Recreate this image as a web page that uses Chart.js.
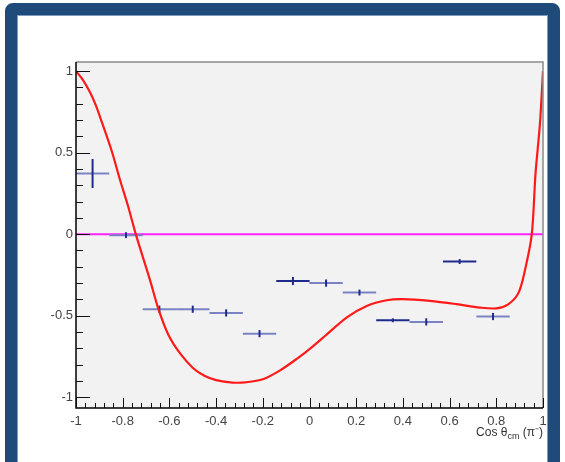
<!DOCTYPE html>
<html lang="en">
<head>
    <meta charset="UTF-8">
    <title>Cos theta cm fit</title>
    <style>
        body {
            margin: 0;
            background: #ffffff;
        }
        .frame {
            position: absolute;
            left: 5px;
            top: 3px;
            width: 555px;
            height: 490px;
            box-sizing: border-box;
            border: 12px solid #1f4b7a;
            border-radius: 8px;
            box-shadow: inset 0 0 0 1px #7d9cc0;
            background: #ffffff;
        }
        #chart {
            position: absolute;
            left: 0;
            top: 0;
        }
    </style>
</head>
<body>
    <div class="frame"></div>
    <canvas id="chart" width="565" height="462"></canvas>

    <script src="https://cdn.jsdelivr.net/npm/chart.js"></script>
    <script>
        // fit curve (red)
        const curveX = [-1, -0.97, -0.94, -0.915, -0.89, -0.847, -0.812, -0.776, -0.744, -0.683, -0.648, -0.605,
            -0.555, -0.498, -0.45, -0.4, -0.33, -0.27, -0.2, -0.126, -0.05, 0, 0.07, 0.16, 0.245,
            0.33, 0.4, 0.516, 0.63, 0.73, 0.8, 0.851, 0.895, 0.923, 0.952, 0.968, 0.987, 1];
        const curveY = [1, 0.945, 0.87, 0.79, 0.69, 0.51, 0.335, 0.167, 0, -0.282, -0.455, -0.615,
            -0.73, -0.822, -0.868, -0.895, -0.91, -0.908, -0.89, -0.835, -0.76, -0.705, -0.62, -0.51, -0.44,
            -0.405, -0.398, -0.409, -0.429, -0.45, -0.455, -0.43, -0.36, -0.22, 0, 0.372, 0.68, 1];

        // measured points with errors (blue crosses)
        const binCenters = [-0.929, -0.786, -0.643, -0.5, -0.357, -0.214, -0.071, 0.071, 0.214, 0.357, 0.5, 0.643, 0.786];
        const binValues = [0.372, -0.006, -0.46, -0.46, -0.483, -0.61, -0.287, -0.3, -0.358, -0.528, -0.538, -0.168, -0.505];
        const binHalfWidth = [0.0714, 0.0714, 0.0714, 0.0714, 0.0714, 0.0714, 0.0714, 0.0714, 0.0714, 0.0714, 0.0714, 0.0714, 0.0714];
        const binErrors = [0.089, 0.018, 0.022, 0.022, 0.022, 0.022, 0.025, 0.022, 0.018, 0.012, 0.022, 0.015, 0.022];

        // zero line (magenta)
        const zeroX = [-1, 1];
        const zeroY = [0, 0];

        // axis labels
        const xTicks = [-1, -0.8, -0.6, -0.4, -0.2, 0, 0.2, 0.4, 0.6, 0.8, 1];
        const yTicks = [-1, -0.5, 0, 0.5, 1];

        const darkBars = [6, 9, 11]; // these look darker in the original

        function toPoints(xs, ys) {
            return xs.map((x, i) => ({ x: x, y: ys[i] }));
        }

        const labelFont = { family: "'Liberation Sans', Arial, sans-serif", size: 13 };

        // gray pad behind the plot
        const padBackground = {
            id: 'padBackground',
            beforeDraw(chart) {
                const a = chart.chartArea;
                const ctx = chart.ctx;
                ctx.save();
                ctx.fillStyle = '#f2f2f2';
                ctx.fillRect(a.left, a.top, a.right - a.left, a.bottom - a.top);
                ctx.restore();
            }
        };

        // error bars drawn right after the points dataset
        const errorBars = {
            id: 'errorBars',
            afterDatasetDraw(chart, args) {
                if (args.index !== 1) return;
                const xs = chart.scales.x, ys = chart.scales.y;
                const ctx = chart.ctx;
                ctx.save();
                binCenters.forEach((c, i) => {
                    const px = xs.getPixelForValue(c);
                    const py = ys.getPixelForValue(binValues[i]);
                    const x0 = xs.getPixelForValue(c - binHalfWidth[i]);
                    const x1 = xs.getPixelForValue(c + binHalfWidth[i]);
                    const y0 = ys.getPixelForValue(binValues[i] + binErrors[i]);
                    const y1 = ys.getPixelForValue(binValues[i] - binErrors[i]);
                    const dark = darkBars.includes(i);
                    ctx.strokeStyle = dark ? '#1f2a8c' : '#7a82c4';
                    ctx.lineWidth = 2;
                    ctx.beginPath();
                    ctx.moveTo(x0, py);
                    ctx.lineTo(x1, py);
                    ctx.stroke();
                    ctx.strokeStyle = '#1f2a8c';
                    ctx.lineWidth = 2;
                    ctx.beginPath();
                    ctx.moveTo(px, y0);
                    ctx.lineTo(px, y1);
                    ctx.stroke();
                });
                ctx.restore();
            }
        };

        // frame, axes, inside ticks and the x title
        const padFrame = {
            id: 'padFrame',
            afterDraw(chart) {
                const a = chart.chartArea;
                const xs = chart.scales.x, ys = chart.scales.y;
                const ctx = chart.ctx;
                ctx.save();

                ctx.strokeStyle = '#8a8a8a';
                ctx.lineWidth = 1.5;
                ctx.beginPath();
                ctx.moveTo(a.left, a.top);
                ctx.lineTo(a.right, a.top);
                ctx.lineTo(a.right, a.bottom);
                ctx.stroke();

                ctx.strokeStyle = '#000000';
                ctx.lineWidth = 1.5;
                ctx.beginPath();
                ctx.moveTo(a.left, a.top);
                ctx.lineTo(a.left, a.bottom);
                ctx.lineTo(a.right, a.bottom);
                ctx.stroke();

                ctx.lineWidth = 1;
                ctx.strokeStyle = '#111111';
                ctx.beginPath();
                for (let k = 0; k <= 50; k++) {
                    const v = -1 + k * 0.04;
                    const px = Math.round(xs.getPixelForValue(v)) + 0.5;
                    const len = (k % 5 === 0) ? 10 : 5;
                    ctx.moveTo(px, a.bottom);
                    ctx.lineTo(px, a.bottom - len);
                }
                for (let k = -10; k <= 10; k++) {
                    const v = k * 0.1;
                    const py = Math.round(ys.getPixelForValue(v)) + 0.5;
                    const len = (k % 5 === 0) ? 14 : 7;
                    ctx.moveTo(a.left, py);
                    ctx.lineTo(a.left + len, py);
                }
                ctx.stroke();

                // x title: Cos θcm (π⁻)
                const right = a.right;
                const base = 436;
                ctx.fillStyle = '#333333';
                ctx.textBaseline = 'alphabetic';
                const t1 = 'Cos θ', t3 = ' (π⁻)';
                ctx.font = "9px 'Liberation Sans', Arial, sans-serif";
                const w2 = ctx.measureText('cm').width;
                ctx.font = "12px 'Liberation Sans', Arial, sans-serif";
                const w1 = ctx.measureText(t1).width;
                const w3 = ctx.measureText(t3).width;
                let x = right - (w1 + w2 + w3);
                ctx.fillText(t1, x, base);
                x += w1;
                ctx.font = "9px 'Liberation Sans', Arial, sans-serif";
                ctx.fillText('cm', x, base + 3);
                x += w2;
                ctx.font = "12px 'Liberation Sans', Arial, sans-serif";
                ctx.fillText(t3, x, base);

                ctx.restore();
            }
        };

        new Chart(document.getElementById('chart'), {
            type: 'scatter',
            data: {
                datasets: [
                    {
                        label: 'fit',
                        data: toPoints(curveX, curveY),
                        showLine: true,
                        borderColor: '#ff1a1a',
                        borderWidth: 2.2,
                        pointRadius: 0,
                        tension: 0.3
                    },
                    {
                        label: 'data',
                        data: toPoints(binCenters, binValues),
                        showLine: false,
                        pointRadius: 0
                    },
                    {
                        label: 'zero',
                        data: toPoints(zeroX, zeroY),
                        showLine: true,
                        borderColor: '#ff22ff',
                        borderWidth: 2,
                        pointRadius: 0
                    }
                ]
            },
            options: {
                responsive: false,
                animation: false,
                devicePixelRatio: 1,
                layout: { padding: { top: 62, right: 22, left: 0, bottom: 0 } },
                plugins: {
                    legend: { display: false },
                    tooltip: { enabled: false }
                },
                scales: {
                    x: {
                        type: 'linear',
                        min: -1,
                        max: 1,
                        afterBuildTicks: s => { s.ticks = xTicks.map(v => ({ value: v })); },
                        afterFit: s => { s.height = 54; },
                        grid: { display: false, drawTicks: false },
                        border: { display: false },
                        ticks: {
                            padding: 6,
                            maxRotation: 0,
                            autoSkip: false,
                            color: '#444444',
                            font: labelFont,
                            callback: v => String(+v.toFixed(2))
                        }
                    },
                    y: {
                        type: 'linear',
                        min: -1.066,
                        max: 1.056,
                        afterBuildTicks: s => { s.ticks = yTicks.map(v => ({ value: v })); },
                        afterFit: s => { s.width = 76; },
                        grid: { display: false, drawTicks: false },
                        border: { display: false },
                        ticks: {
                            padding: 3,
                            autoSkip: false,
                            color: '#444444',
                            font: labelFont,
                            callback: v => String(+v.toFixed(2))
                        }
                    }
                }
            },
            plugins: [padBackground, errorBars, padFrame]
        });
    </script>
</body>
</html>
